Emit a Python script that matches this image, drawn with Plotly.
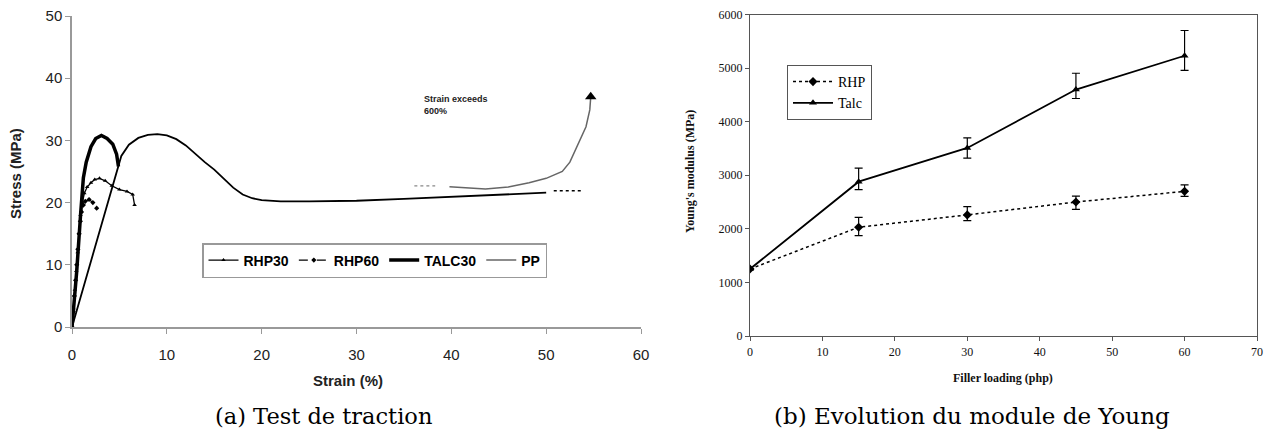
import plotly.graph_objects as go

# ---------------- (a) tensile test data ----------------
rhp30_strain = [0, 0.15, 0.3, 0.45, 0.6, 0.75, 0.9, 1.1, 1.3, 1.6, 2.0, 2.4, 2.9, 3.5, 4.2, 5.0, 5.8, 6.4, 6.6]
rhp30_stress = [0, 3, 6, 9, 12, 15, 18, 20, 21.5, 22.5, 23.2, 23.7, 23.9, 23.5, 22.7, 22.1, 21.8, 21.3, 19.6]
rhp60_strain = [0, 0.12, 0.25, 0.38, 0.5, 0.62, 0.75, 0.88, 1.0, 1.2, 1.4, 1.8, 2.2, 2.6]
rhp60_stress = [0, 2.5, 5, 7.5, 10, 12.5, 15, 17, 18.5, 19.6, 20.2, 20.5, 20.0, 19.1]
talc30_strain = [0, 0.5, 0.9, 1.2, 1.5, 2.0, 2.5, 3.1, 3.7, 4.3, 4.7, 4.9]
talc30_stress = [0, 9, 18, 24, 26.5, 29, 30.3, 30.8, 30.3, 29.4, 27.8, 25.8]
pp_strain = [0, 4.5, 5.2, 6, 7, 8, 9, 10, 11, 12, 13, 14, 15, 16, 17, 18, 19, 20, 22, 25, 30, 35, 40, 45, 50]
pp_stress = [0, 24, 27.5, 29.3, 30.4, 30.9, 31.0, 30.8, 30.2, 29.2, 27.8, 26.5, 25.3, 23.8, 22.4, 21.3, 20.7, 20.4, 20.2, 20.2, 20.3, 20.6, 20.9, 21.2, 21.6]
pp_tail_strain = [39.8, 41.5, 43.6, 46, 48.2, 50, 51.7, 52.5, 53.1, 53.7, 54.2, 54.6, 54.7]
pp_tail_stress = [22.55, 22.35, 22.2, 22.5, 23.2, 23.9, 25.0, 26.5, 28.5, 30.3, 32.2, 34.9, 37.0]
pp_break1_strain = [50.8, 53.7]
pp_break1_stress = [21.9, 21.9]
pp_break2_strain = [36.1, 38.3]
pp_break2_stress = [22.7, 22.7]
strain_ticks = [0, 10, 20, 30, 40, 50, 60]
stress_ticks = [0, 10, 20, 30, 40, 50]

# ---------------- (b) Young's modulus data ----------------
filler = [0, 15, 30, 45, 60]
rhp_mod = [1250, 2030, 2260, 2500, 2700]
rhp_err_plus = [0, 185, 154, 112, 122]
rhp_err_minus = [0, 155, 106, 136, 93]
talc_mod = [1250, 2880, 3510, 4600, 5230]
talc_err_plus = [0, 254, 186, 304, 471]
talc_err_minus = [0, 149, 192, 168, 272]
filler_ticks = [0, 10, 20, 30, 40, 50, 60, 70]
mod_ticks = [0, 1000, 2000, 3000, 4000, 5000, 6000]

OFF = 8  # page body margin
W, H = 1273 - OFF, 434 - OFF
def px(x):
    return (x - OFF) / W
def py(y):
    return 1 - (y - OFF) / H

fig = go.Figure()

# left chart traces
fig.add_trace(go.Scatter(x=rhp30_strain, y=rhp30_stress, name="RHP30", mode="lines+markers",
                         line=dict(color="black", width=1.3), marker=dict(symbol="triangle-up", size=4, color="black"),
                         xaxis="x", yaxis="y", legend="legend"))
fig.add_trace(go.Scatter(x=rhp60_strain, y=rhp60_stress, name="RHP60", mode="lines+markers",
                         line=dict(color="black", width=1.3, dash="dash"), marker=dict(symbol="diamond", size=4, color="black"),
                         xaxis="x", yaxis="y", legend="legend"))
fig.add_trace(go.Scatter(x=talc30_strain, y=talc30_stress, name="TALC30", mode="lines",
                         line=dict(color="black", width=3.5),
                         xaxis="x", yaxis="y", legend="legend"))
fig.add_trace(go.Scatter(x=pp_strain, y=pp_stress, name="PP", mode="lines", showlegend=False,
                         line=dict(color="black", width=1.8),
                         xaxis="x", yaxis="y"))
fig.add_trace(go.Scatter(x=pp_break1_strain, y=pp_break1_stress, mode="lines", showlegend=False,
                         line=dict(color="black", width=1.5, dash="dot"), xaxis="x", yaxis="y"))
fig.add_trace(go.Scatter(x=pp_break2_strain, y=pp_break2_stress, mode="lines", showlegend=False,
                         line=dict(color="#888888", width=1.2, dash="dot"), xaxis="x", yaxis="y"))
fig.add_trace(go.Scatter(x=pp_tail_strain, y=pp_tail_stress, name="PP", mode="lines",
                         line=dict(color="#666666", width=1.5), xaxis="x", yaxis="y", legend="legend"))
fig.add_trace(go.Scatter(x=[pp_tail_strain[-1]], y=[pp_tail_stress[-1]], mode="markers", showlegend=False,
                         marker=dict(symbol="triangle-up", size=10, color="black"), xaxis="x", yaxis="y"))

# right chart traces
fig.add_trace(go.Scatter(x=filler, y=rhp_mod, name="RHP", mode="lines+markers",
                         line=dict(color="black", width=1.5, dash="dot"),
                         marker=dict(symbol="diamond", size=7, color="black"),
                         error_y=dict(type="data", symmetric=False, array=rhp_err_plus, arrayminus=rhp_err_minus,
                                      color="black", thickness=1.2, width=4),
                         xaxis="x2", yaxis="y2", legend="legend2"))
fig.add_trace(go.Scatter(x=filler, y=talc_mod, name="Talc", mode="lines+markers",
                         line=dict(color="black", width=1.8),
                         marker=dict(symbol="triangle-up", size=7, color="black"),
                         error_y=dict(type="data", symmetric=False, array=talc_err_plus, arrayminus=talc_err_minus,
                                      color="black", thickness=1.2, width=4),
                         xaxis="x2", yaxis="y2", legend="legend2"))

sans = "Liberation Sans"
serif = "Liberation Serif"

fig.update_layout(
    width=W, height=H,
    margin=dict(l=0, r=0, t=0, b=0, autoexpand=False),
    paper_bgcolor="white", plot_bgcolor="white",
    showlegend=True,
    xaxis=dict(domain=[px(72), px(641)], range=[0, 60], tickvals=strain_ticks, automargin=False,
               showline=True, linecolor="#999999", linewidth=1.5, ticks="outside", ticklen=5,
               tickcolor="#999999", showgrid=False, zeroline=False, ticklabeloverflow="allow",
               ticklabelstandoff=8,
               tickfont=dict(family=sans, size=15, color="#222222"), anchor="y"),
    yaxis=dict(domain=[py(327), py(16)], range=[0, 50], tickvals=stress_ticks, automargin=False,
               showline=True, linecolor="#999999", linewidth=1.5, ticks="outside", ticklen=5,
               tickcolor="#999999", showgrid=False, zeroline=False, ticklabeloverflow="allow",
               tickfont=dict(family=sans, size=15, color="#222222"), anchor="x"),
    xaxis2=dict(domain=[px(750), px(1257)], range=[0, 70], tickvals=filler_ticks, automargin=False,
                showline=True, linecolor="#555555", linewidth=1.2, mirror=True, ticks="outside", ticklen=4,
                tickcolor="#555555", showgrid=False, zeroline=False, ticklabeloverflow="allow",
                tickfont=dict(family=serif, size=12, color="#111111"), anchor="y2"),
    yaxis2=dict(domain=[py(336), py(14.5)], range=[0, 6000], tickvals=mod_ticks, automargin=False,
                showline=True, linecolor="#555555", linewidth=1.2, mirror=True, ticks="outside", ticklen=4,
                tickcolor="#555555", showgrid=False, zeroline=False, ticklabeloverflow="allow",
                tickfont=dict(family=serif, size=12, color="#111111"), anchor="x2"),
    legend=dict(x=px(202), y=py(243), xanchor="left", yanchor="top", orientation="h",
                bordercolor="#999999", borderwidth=1.5, bgcolor="white",
                font=dict(family=sans, size=14, color="black", weight="bold"),
                itemwidth=30, tracegroupgap=0),
    legend2=dict(x=px(787), y=py(65), xanchor="left", yanchor="top", orientation="v",
                 bordercolor="#555555", borderwidth=1, bgcolor="white",
                 font=dict(family=serif, size=14, color="black"), itemwidth=40, tracegroupgap=0),
)

annotations = [
    dict(text="<b>Stress (MPa)</b>", x=px(15), y=py(174), textangle=-90,
         font=dict(family=sans, size=15, color="#222222")),
    dict(text="<b>Strain (%)</b>", x=px(348), y=py(380),
         font=dict(family=sans, size=15, color="#222222")),
    dict(text="<b>Young's modulus (MPa)</b>", x=px(690), y=py(172), textangle=-90,
         font=dict(family=serif, size=12, color="#111111")),
    dict(text="<b>Filler loading (php)</b>", x=px(1003), y=py(378),
         font=dict(family=serif, size=12, color="#111111")),
    dict(text="(a) Test de traction", x=px(323), y=py(416),
         font=dict(family="DejaVu Serif", size=22.5, color="black")),
    dict(text="(b) Evolution du module de Young", x=px(972), y=py(416),
         font=dict(family="DejaVu Serif", size=23, color="black")),
]
for a in annotations:
    a.update(xref="paper", yref="paper", xanchor="center", yanchor="middle", showarrow=False)
annotations.append(dict(text="<b>Strain exceeds<br>600%</b>", x=36.9, y=35.7, xref="x", yref="y",
                        xanchor="left", yanchor="middle", align="left", showarrow=False,
                        font=dict(family=sans, size=9, color="#222222")))
fig.update_layout(annotations=annotations)

fig.write_html("out.html")
